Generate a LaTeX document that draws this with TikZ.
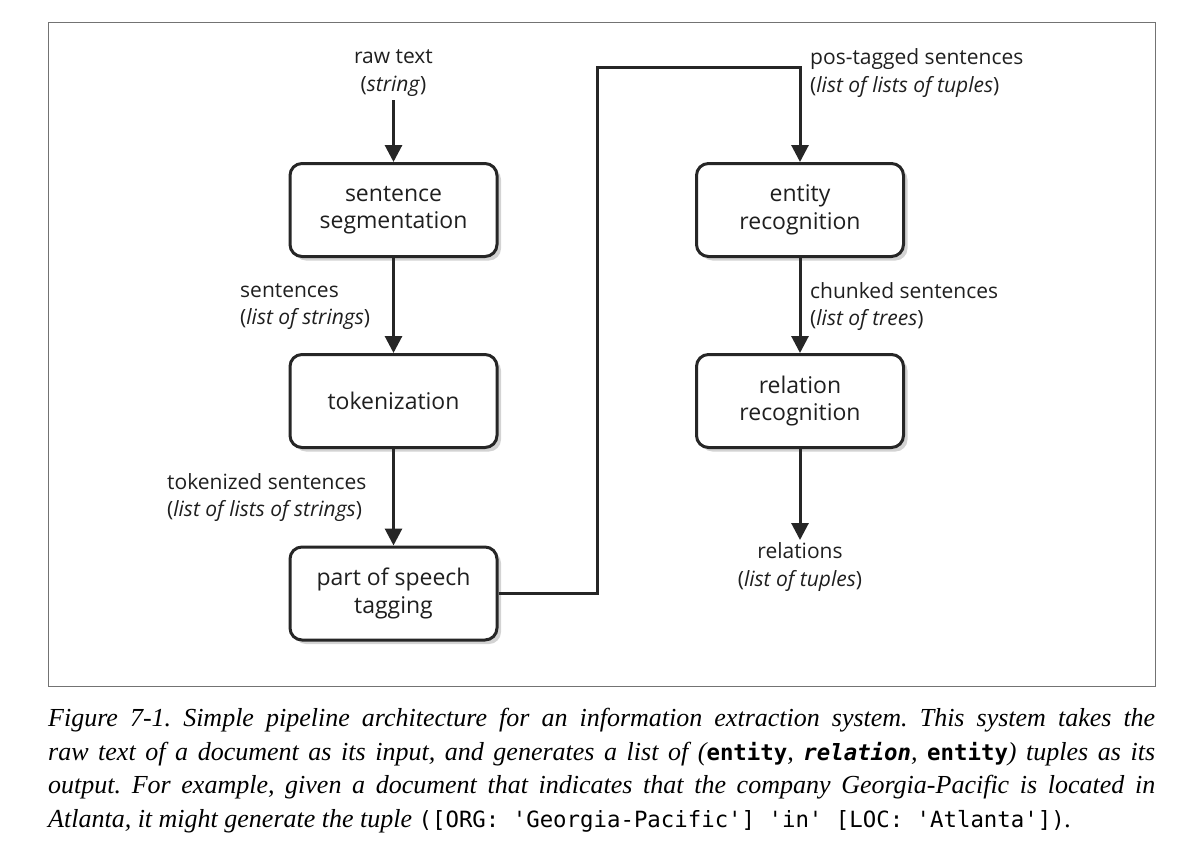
\documentclass[tikz,border=0pt]{standalone}
\usepackage{fontspec}
\setmainfont{Liberation Serif}
\newfontfamily\diagfont{Open Sans}
\newfontfamily\codefont{DejaVu Sans Mono}[Scale=0.86]
\usetikzlibrary{arrows.meta,shadows,positioning}
\tikzset{
  stagebox/.style={draw=black!85, line width=3pt, rounded corners=12pt, fill=white,
    minimum width=207pt, minimum height=93pt, align=center, inner sep=2pt,
    font=\diagfont\fontsize{23}{27.5}\selectfont, text=black!88,
    drop shadow={opacity=0.35, shadow xshift=4pt, shadow yshift=-4pt}},
  datalabel/.style={font=\diagfont\fontsize{21}{27.5}\selectfont, text=black!88, inner sep=0pt},
  flow/.style={line width=3pt, draw=black!85, -{Triangle[length=17pt,width=17pt]}},
  plainflow/.style={line width=3pt, draw=black!85}
}
\begin{document}
\begin{tikzpicture}[x=1pt,y=-1pt]
\useasboundingbox (0,0) rectangle (1184,854);
\draw[black!55, line width=1pt] (48,22) rectangle (1155,686);

\node[stagebox] (seg) at (393.5,210) {sentence\\segmentation};
\node[stagebox] (tok) at (393.5,401) {tokenization};
\node[stagebox] (pos) at (393.5,593.5) {part of speech\\tagging};
\node[stagebox] (ent) at (800,210) {entity\\recognition};
\node[stagebox] (rel) at (800,401) {relation\\recognition};

\node[datalabel, align=center] (raw) at (393.5,73) {raw text\\(\textit{string})};
\node[datalabel, align=left, anchor=west] (sent) at (240,306.5) {sentences\\(\textit{list of strings})};
\node[datalabel, align=left, anchor=west] (toks) at (167,497.5) {tokenized sentences\\(\textit{list of lists of strings})};
\node[datalabel, align=left, anchor=west] (post) at (810,73) {pos-tagged sentences\\(\textit{list of lists of tuples})};
\node[datalabel, align=left, anchor=west] (chunk) at (810,306.5) {chunked sentences\\(\textit{list of trees})};
\node[datalabel, align=center] (rels) at (800,567) {relations\\(\textit{list of tuples})};

\coordinate (bend) at (597,67);

\draw[flow] (393.5,100) -- (seg.north);
\draw[flow] (seg.south) -- (tok.north);
\draw[flow] (tok.south) -- (pos.north);
\draw[flow] (pos.east) -| (bend) -| (ent.north);
\draw[flow] (ent.south) -- (rel.north);
\draw[flow] (rel.south) -- (800,540);

\node[anchor=north west, inner sep=0pt, text width=1107pt, align=justify,
  font=\fontsize{26}{33.7}\selectfont\itshape\frenchspacing] (caption) at (48,708)
{Figure 7-1. Simple pipeline architecture for an information extraction system. This system takes the\linebreak
raw text of a document as its input, and generates a list of ({\upshape\codefont\bfseries entity}, {\upshape\codefont\bfseries\itshape relation}, {\upshape\codefont\bfseries entity}) tuples as its\linebreak
output. For example, given a document that indicates that the company Georgia-Pacific is located in\linebreak
Atlanta, it might generate the tuple {\upshape\codefont ([ORG: 'Georgia-Pacific'] 'in' [LOC: 'Atlanta'])}.};
\end{tikzpicture}
\end{document}
